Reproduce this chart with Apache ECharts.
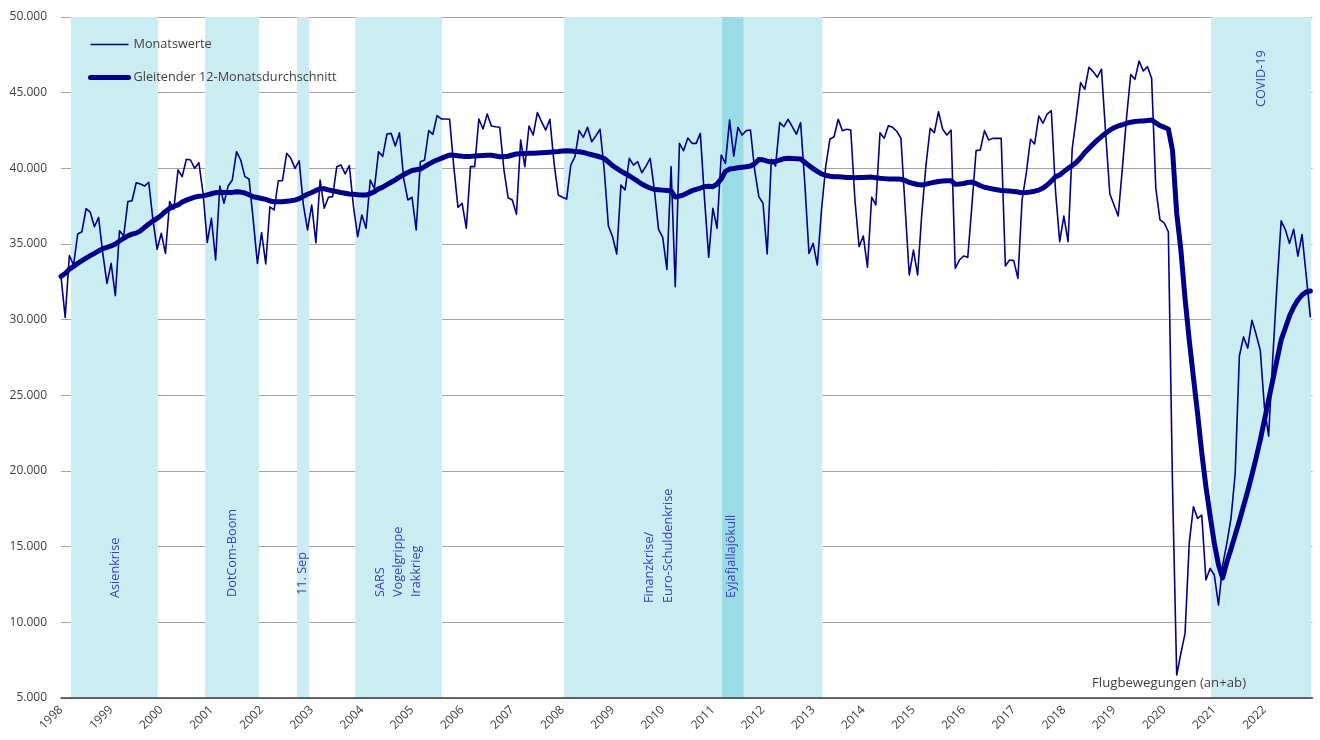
<!DOCTYPE html>
<html>
<head>
<meta charset="utf-8">
<script src="https://cdn.jsdelivr.net/npm/echarts@6/dist/echarts.min.js"></script>
<style>
html,body{margin:0;padding:0;background:#fff;}
#chart{width:1320px;height:740px;}
</style>
</head>
<body>
<div id="chart"></div>
<script>
// Year tick labels (one per January, month index = 12 * k)
const yearLabels = ['1998','1999','2000','2001','2002','2003','2004','2005','2006','2007','2008','2009','2010',
  '2011','2012','2013','2014','2015','2016','2017','2018','2019','2020','2021','2022'];

// Monthly flight movements (Jan 1998 .. Dec 2022)
const monthly = [
  32840, 30150, 34230, 33610, 35660, 35810, 37330, 37100, 36140, 36760, 34380, 32400,
  33720, 31580, 35880, 35530, 37800, 37860, 39050, 38960, 38830, 39080, 36590, 34650,
  35710, 34380, 37800, 37310, 39890, 39450, 40600, 40550, 40000, 40370, 38350, 35110,
  36700, 33940, 38830, 37690, 38830, 39230, 41100, 40550, 39450, 39300, 36590, 33720,
  35750, 33680, 37460, 37250, 39180, 39180, 40990, 40660, 40000, 40490, 37580, 35930,
  37580, 35090, 39230, 37360, 38090, 38130, 40110, 40220, 39630, 40180, 37460, 35480,
  36920, 36040, 39230, 38680, 41100, 40790, 42270, 42310, 41480, 42350, 39340, 37910,
  38090, 35930, 40440, 40550, 42490, 42250, 43480, 43260, 43260, 43240, 40110, 37420,
  37690, 36040, 40110, 40110, 43260, 42600, 43590, 42800, 42750, 42710, 39890, 38060,
  37910, 36960, 41870, 40110, 42800, 42200, 43680, 43090, 42530, 43240, 40330, 38240,
  38090, 37970, 40220, 40770, 42490, 42050, 42710, 41760, 42140, 42580, 39890, 36190,
  35480, 34340, 38900, 38570, 40660, 40220, 40440, 39710, 40150, 40660, 38570, 35970,
  35440, 33320, 40110, 32180, 41650, 41160, 42000, 41650, 41650, 42310, 38000, 34120,
  37360, 36040, 40880, 40330, 43190, 40810, 42710, 42200, 42490, 42530, 39890, 38130,
  37690, 34340, 40600, 40150, 43020, 42750, 43240, 42750, 42250, 43020, 39010, 34380,
  35040, 33610, 37250, 40110, 41920, 42090, 43240, 42490, 42580, 42530, 37910, 34820,
  35530, 33460, 38090, 37580, 42350, 41980, 42820, 42710, 42450, 42000, 37460, 32950,
  34600, 32950, 37000, 40200, 42640, 42350, 43740, 42580, 42200, 42530, 33390, 33940,
  34210, 34120, 37580, 41170, 41210, 42490, 41870, 41980, 41980, 41980, 33550, 33940,
  33900, 32730, 37910, 39670, 41920, 41610, 43460, 42980, 43590, 43810, 38500, 35150,
  36850, 35150, 41320, 43400, 45660, 45220, 46680, 46390, 46020, 46550, 42300, 38300,
  37580, 36850, 40000, 43350, 46200, 45880, 47090, 46430, 46720, 45950, 38680, 36590,
  36400, 35810, 19000, 6520, 7950, 9270, 15220, 17640, 16870, 17090, 12800, 13570,
  13130, 11145, 13800, 15220, 16870, 19850, 27600, 28860, 28120, 29960, 29030, 27980,
  24200, 22300, 27500, 32300, 36530, 35950, 35040, 35970, 34200, 35620, 32900, 30150
];

// 12-month moving average
const movingAvg = [
  32860, 33050, 33330, 33520, 33720, 33900, 34070, 34230, 34380, 34540, 34700, 34780,
  34870, 35000, 35200, 35380, 35540, 35650, 35720, 35870, 36100, 36320, 36520, 36690,
  36900, 37150, 37356, 37480, 37580, 37770, 37900, 38000, 38100, 38150, 38180, 38250,
  38320, 38390, 38400, 38400, 38400, 38410, 38456, 38430, 38370, 38250, 38120, 38070,
  38010, 37950, 37840, 37795, 37790, 37795, 37830, 37860, 37900, 38000, 38150, 38290,
  38400, 38540, 38650, 38650, 38580, 38520, 38460, 38400, 38350, 38305, 38280, 38260,
  38240, 38237, 38330, 38460, 38640, 38760, 38920, 39080, 39240, 39420, 39580, 39720,
  39860, 39910, 39950, 40110, 40280, 40430, 40550, 40660, 40770, 40880, 40870, 40830,
  40800, 40780, 40790, 40810, 40830, 40850, 40870, 40870, 40820, 40770, 40760, 40800,
  40880, 40947, 40960, 40975, 40990, 41000, 41010, 41025, 41045, 41065, 41090, 41110,
  41140, 41165, 41140, 41120, 41100, 41050, 40970, 40900, 40830, 40750, 40650, 40420,
  40180, 39990, 39820, 39660, 39510, 39330, 39150, 38960, 38820, 38700, 38600, 38580,
  38560, 38540, 38510, 38100, 38160, 38250, 38380, 38520, 38610, 38700, 38790, 38810,
  38790, 38960, 39300, 39800, 39950, 39990, 40040, 40070, 40100, 40150, 40300, 40580,
  40560, 40480, 40420, 40450, 40550, 40640, 40663, 40650, 40640, 40620, 40400, 40180,
  39980, 39800, 39630, 39540, 39480, 39450, 39440, 39420, 39400, 39390, 39380, 39390,
  39400, 39410, 39420, 39380, 39340, 39320, 39300, 39300, 39300, 39280, 39200, 39070,
  39000, 38930, 38900, 38960, 39020, 39080, 39130, 39160, 39180, 39185, 38950, 38970,
  39000, 39060, 39090, 38990, 38850, 38750, 38690, 38630, 38580, 38540, 38520, 38500,
  38470, 38440, 38380, 38400, 38440, 38490, 38560, 38700, 38900, 39150, 39450, 39560,
  39780, 40000, 40180, 40400, 40700, 41050, 41320, 41600, 41860, 42100, 42320, 42520,
  42680, 42800, 42880, 42980, 43050, 43090, 43120, 43130, 43160, 43190, 43000, 42820,
  42720, 42600, 41200, 37050, 34600, 31400, 28650, 26200, 23800, 21200, 18950, 17030,
  15230, 13800, 12930, 13990, 14850, 15770, 16700, 17690, 18680, 19740, 20860, 22050,
  23370, 24690, 26010, 27330, 28660, 29450, 30240, 30840, 31300, 31630, 31830, 31890
];

// Crisis periods (start month, end month; month 0 = Jan 1998)
const crisisPeriods = [[2.4, 23.2], [34.5, 47.4], [56.5, 59.4], [70.4, 91.2], [120.4, 182.2], [275.2, 299.2]];
const volcanoPeriods = [[158.2, 163.3]];

const seriesNames = ['Monatswerte', 'Gleitender 12-Monatsdurchschnitt'];

const FONT = '"Open Sans", "Noto Sans", sans-serif';
const NAVY = '#00008B';
const ANNOT = '#3c3cbe';

const chart = echarts.init(document.getElementById('chart'), null, {renderer: 'canvas'});

const monthlyData = monthly.map((v, i) => [i, v]);
const avgData = movingAvg.map((v, i) => [i, v]);

const areaData = crisisPeriods.map(p => [{xAxis: p[0], itemStyle: {color: '#cbecf1'}}, {xAxis: p[1]}])
  .concat(volcanoPeriods.map(p => [{xAxis: p[0], itemStyle: {color: '#9bdce4'}}, {xAxis: p[1]}]));

function fmtThousands(v) {
  return String(v).replace(/\B(?=(\d{3})+(?!\d))/g, '.');
}

function rotText(x, y, text, lh) {
  return {
    type: 'text', x: x, y: y, rotation: Math.PI / 2, silent: true, z: 50,
    style: {text: text, fill: ANNOT, font: '12.7px ' + FONT, align: 'left', verticalAlign: 'middle', lineHeight: lh || 18}
  };
}

const option = {
  animation: false,
  backgroundColor: '#ffffff',
  textStyle: {fontFamily: FONT},
  grid: {left: 61, right: 7.5, top: 17, bottom: 42, containLabel: false},
  legend: {
    orient: 'vertical', left: 83, top: 33,
    itemWidth: 38, itemHeight: 14, itemGap: 20,
    itemStyle: {opacity: 0},
    textStyle: {fontSize: 12.7, color: '#404040', fontFamily: FONT},
    data: [
      {name: seriesNames[0], lineStyle: {width: 1.6}},
      {name: seriesNames[1], lineStyle: {width: 5, cap: 'round'}}
    ]
  },
  xAxis: {
    type: 'value', min: 0, max: 299.5, interval: 12, z: 10,
    axisLine: {show: true, onZero: false, lineStyle: {color: '#404040', width: 1.5}},
    axisTick: {show: false},
    splitLine: {show: false},
    axisLabel: {
      rotate: 45, margin: 10, fontSize: 12, color: '#404040', fontFamily: FONT,
      showMaxLabel: false,
      formatter: v => (v % 12 === 0 && yearLabels[v / 12]) ? yearLabels[v / 12] : ''
    }
  },
  yAxis: {
    type: 'value', min: 5000, max: 50000, interval: 5000,
    axisLine: {show: false},
    axisTick: {show: false},
    splitLine: {show: true, lineStyle: {color: '#a3a3a3', width: 1}},
    axisLabel: {margin: 14, fontSize: 12, color: '#404040', fontFamily: FONT, formatter: fmtThousands}
  },
  series: [
    {
      name: 'shade', type: 'line', data: [], z: 1, silent: true,
      markArea: {silent: true, data: areaData}
    },
    {
      name: seriesNames[0], type: 'line', data: monthlyData, z: 3,
      showSymbol: false, symbol: 'none', smooth: false,
      lineStyle: {width: 1.6, color: NAVY, join: 'round'},
      itemStyle: {color: NAVY}
    },
    {
      name: seriesNames[1], type: 'line', data: avgData, z: 4,
      showSymbol: false, symbol: 'none', smooth: false,
      lineStyle: {width: 5, color: NAVY, cap: 'round', join: 'round'},
      itemStyle: {color: NAVY}
    }
  ],
  graphic: [
    rotText(115, 598, 'Asienkrise'),
    rotText(232, 597, 'DotCom-Boom'),
    rotText(302, 595, '11. Sep'),
    rotText(398, 597, 'SARS\nVogelgrippe\nIrakkrieg', 18),
    rotText(658.5, 603, 'Finanzkrise/\nEuro-Schuldenkrise', 19),
    rotText(731, 598, 'Eyjafjallajökull'),
    rotText(1261, 107, 'COVID-19'),
    {
      type: 'text', x: 1092, y: 683, silent: true, z: 50,
      style: {text: 'Flugbewegungen (an+ab)', fill: '#404040', font: '13.2px ' + FONT, align: 'left', verticalAlign: 'middle'}
    }
  ]
};

chart.setOption(option);
</script>
</body>
</html>
